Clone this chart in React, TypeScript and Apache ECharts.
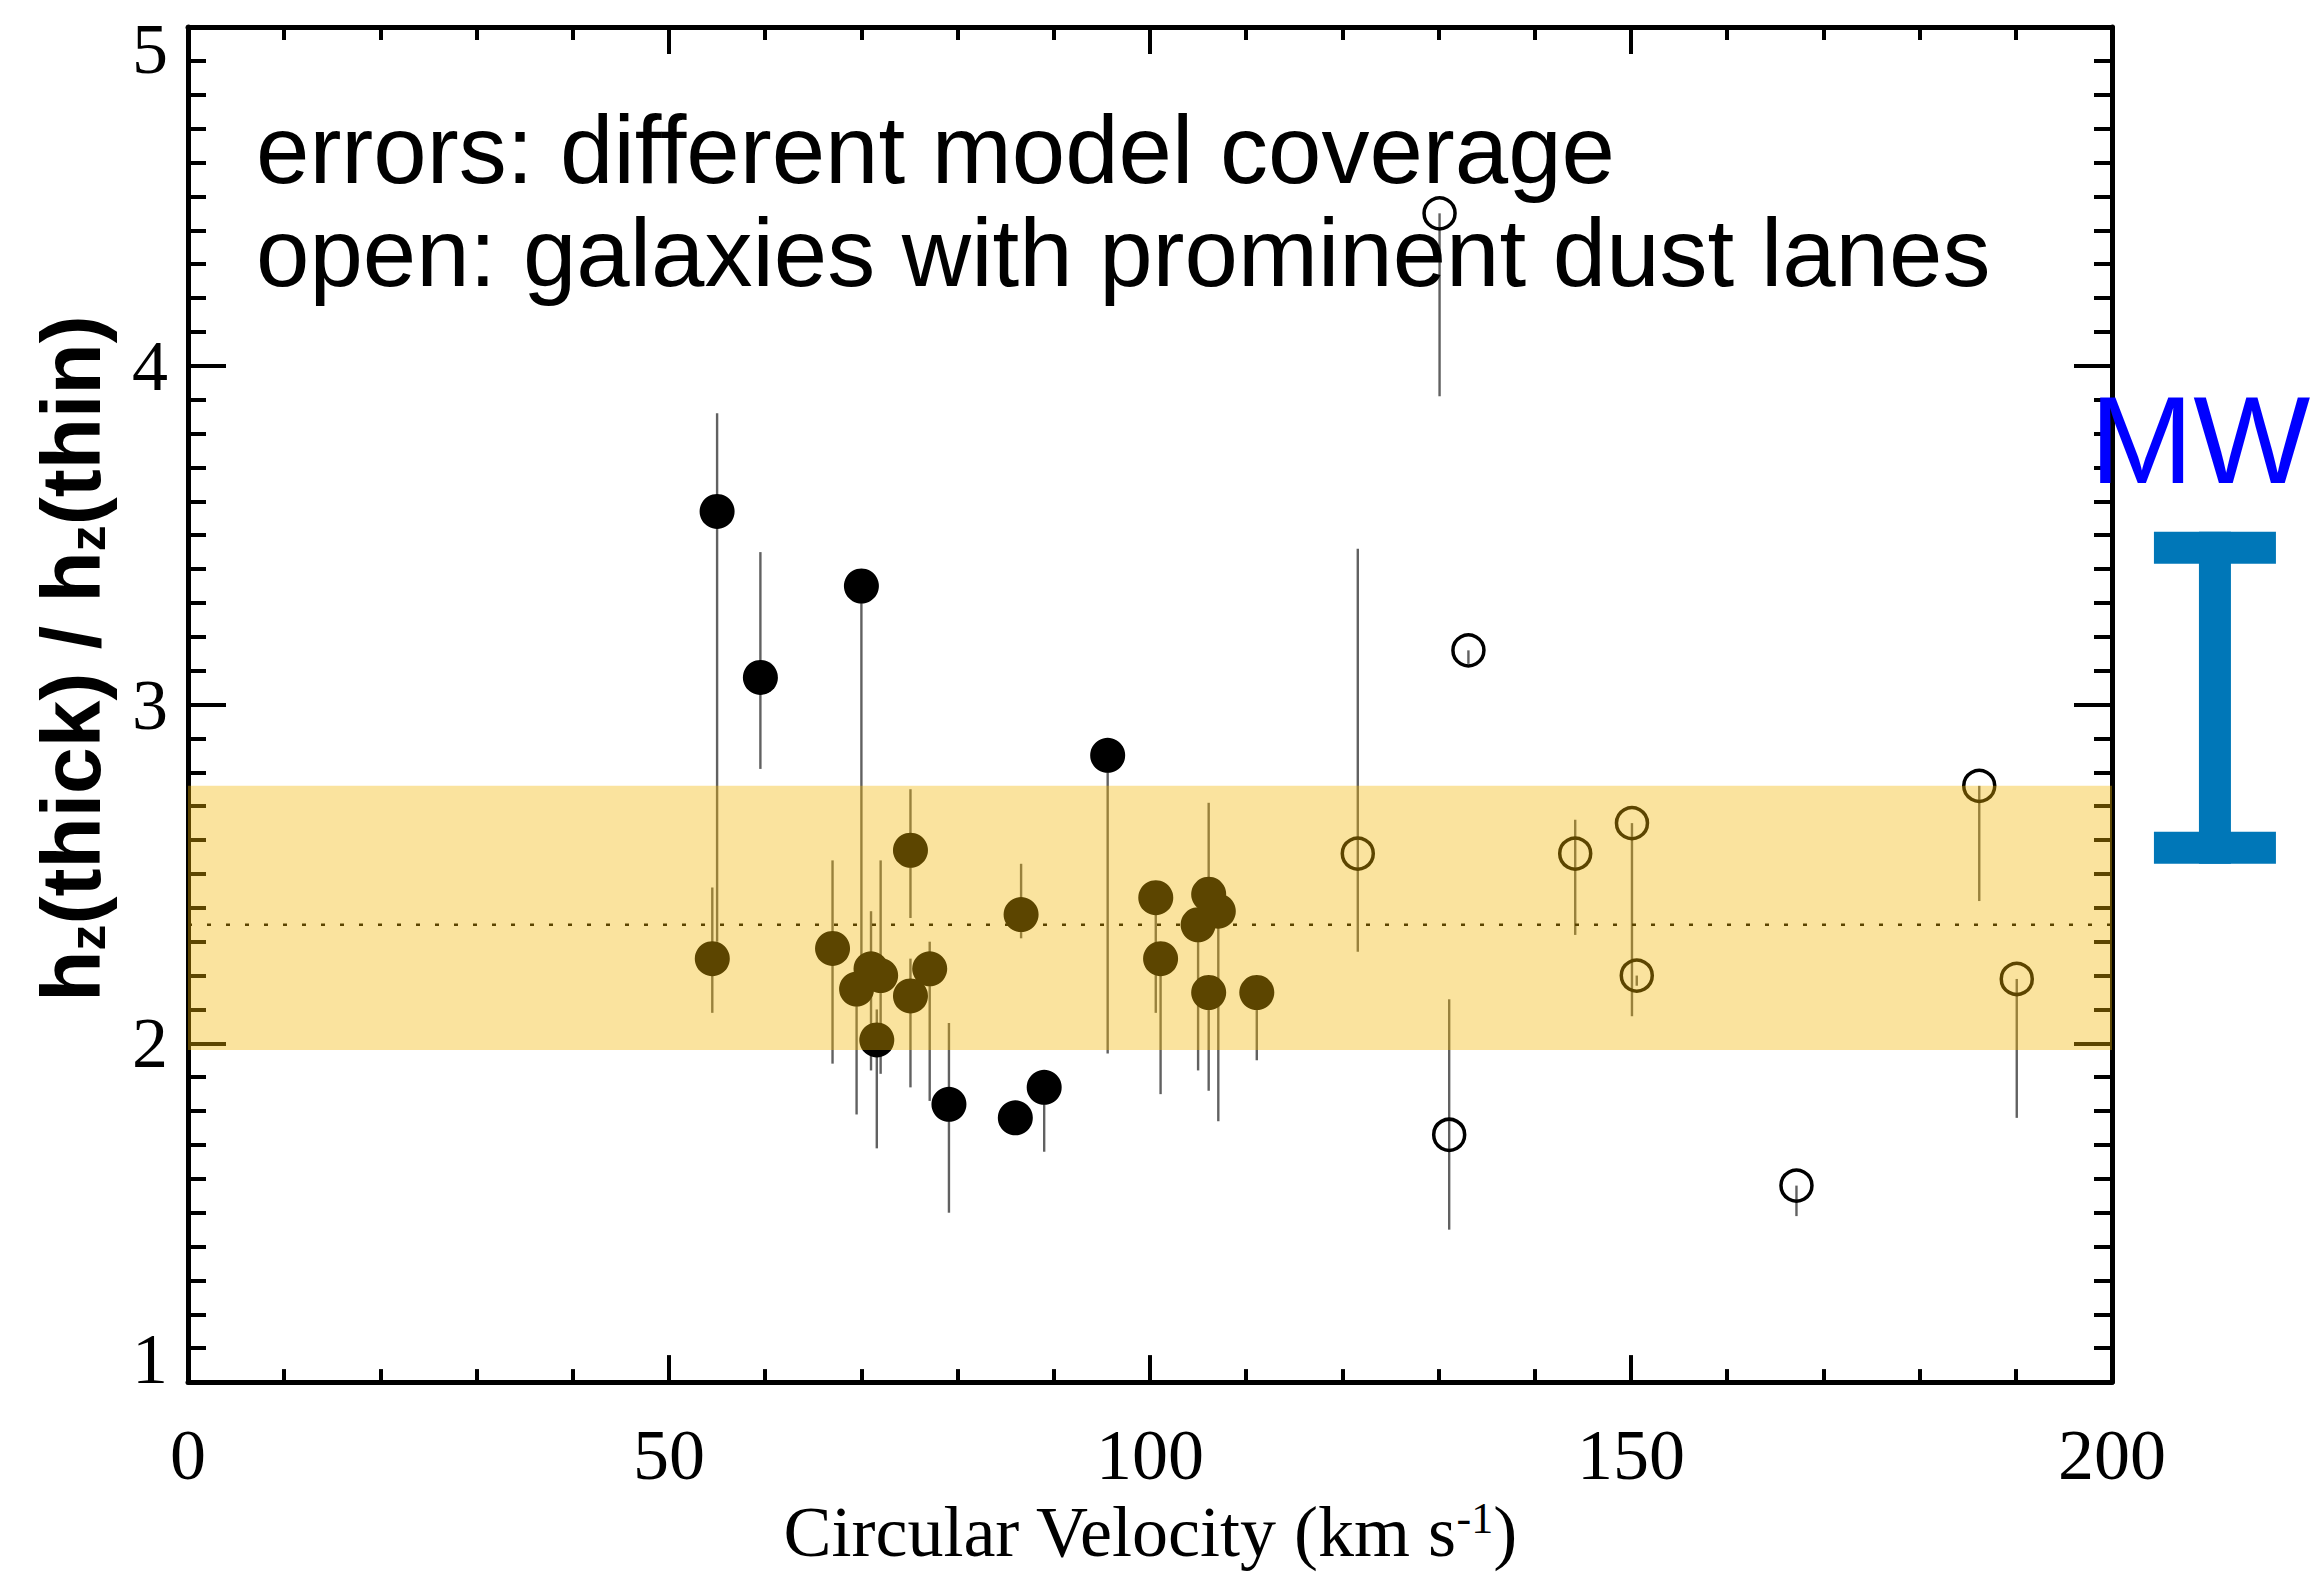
import React, { useEffect, useRef } from 'react';
import * as echarts from 'echarts';

// Axis ticks
const xTicks = [0, 50, 100, 150, 200];
const yTicks = [1, 2, 3, 4, 5];

// Filled symbols: circular velocity, ratio, lower and upper error extent
const filledV = [55.0, 54.5, 59.5, 70.0, 69.5, 67.0, 71.0, 72.0, 71.6, 75.1, 75.1, 77.1, 79.1, 86.0, 89.0, 86.6, 95.6, 100.6, 101.1, 106.1, 107.1, 105.0, 106.1, 111.1];
const filledR = [3.57, 2.25, 3.08, 3.35, 2.16, 2.28, 2.22, 2.20, 2.01, 2.57, 2.14, 2.22, 1.82, 1.78, 1.87, 2.38, 2.85, 2.43, 2.25, 2.44, 2.39, 2.35, 2.15, 2.15];
const filledLo = [2.30, 2.09, 2.81, 2.20, 1.79, 1.94, 1.92, 1.91, 1.69, 2.37, 1.87, 1.83, 1.50, 1.78, 1.68, 2.31, 1.97, 2.09, 1.85, 2.44, 1.77, 1.92, 1.86, 1.95];
const filledHi = [3.86, 2.46, 3.45, 3.35, 2.16, 2.54, 2.39, 2.54, 2.10, 2.75, 2.25, 2.30, 2.06, 1.78, 1.87, 2.53, 2.85, 2.43, 2.25, 2.71, 2.39, 2.35, 2.15, 2.15];

// Open symbols: galaxies with prominent dust lanes
const openV = [121.6, 130.1, 133.1, 131.1, 144.2, 150.1, 150.6, 167.2, 186.2, 190.1];
const openR = [2.56, 4.45, 3.16, 1.73, 2.56, 2.65, 2.20, 1.58, 2.76, 2.19];
const openLo = [2.27, 3.91, 3.12, 1.45, 2.32, 2.08, 2.17, 1.49, 2.42, 1.78];
const openHi = [3.46, 4.45, 3.16, 2.13, 2.66, 2.65, 2.20, 1.58, 2.76, 2.19];

// Mean ratio and its scatter band
const meanRatio = 2.35;
const bandLow = 1.98;
const bandHigh = 2.76;

// Milky Way range (drawn beyond the right axis)
const mwV = 210.7;
const mwLo = 2.53;
const mwHi = 3.51;

const SERIF = '"Liberation Serif", "Times New Roman", serif';
const SANS = '"Liberation Sans", Arial, Helvetica, sans-serif';

function errRender(params: any, api: any) {
  const x = api.value(0);
  const p1 = api.coord([x, api.value(1)]);
  const p2 = api.coord([x, api.value(2)]);
  return {
    type: 'line',
    shape: { x1: p1[0], y1: p1[1], x2: p2[0], y2: p2[1] },
    style: { stroke: '#000', lineWidth: 2.4, opacity: 0.62 },
  };
}

function buildOption() {
  const tickStyle = { color: '#000', width: 4 };
  const axisLineStyle = { color: '#000', width: 5 };
  const xBase = {
    type: 'value',
    min: xTicks[0],
    max: xTicks[xTicks.length - 1],
    interval: xTicks[1] - xTicks[0],
    splitLine: { show: false },
    axisLine: { show: true, onZero: false, lineStyle: axisLineStyle },
    axisTick: { show: true, inside: true, length: 27, lineStyle: tickStyle },
    minorTick: { show: true, splitNumber: 5, length: 13, lineStyle: tickStyle },
  };
  const yBase = {
    type: 'value',
    min: yTicks[0],
    max: yTicks[yTicks.length - 1],
    interval: yTicks[1] - yTicks[0],
    splitLine: { show: false },
    axisLine: { show: true, onZero: false, lineStyle: axisLineStyle },
    axisTick: { show: true, inside: true, length: 38, lineStyle: tickStyle },
    minorTick: { show: true, splitNumber: 10, length: 18, lineStyle: tickStyle },
  };
  const numStyle = { fontFamily: SERIF, fontSize: 72, color: '#000' };
  return {
    animation: false,
    backgroundColor: '#fff',
    grid: { left: 188, right: 203, top: 27, bottom: 180, containLabel: false },
    xAxis: [
      {
        ...xBase,
        position: 'bottom',
        axisLabel: { show: true, margin: 37, ...numStyle },
        name: '{n|Circular Velocity (km s}{s|-1}{n|)}',
        nameLocation: 'middle',
        nameGap: 111,
        nameTextStyle: {
          rich: {
            n: { fontFamily: SERIF, fontSize: 72, color: '#000' },
            s: { fontFamily: SERIF, fontSize: 44, color: '#000', verticalAlign: 'top' },
          },
        },
      },
      { ...xBase, position: 'top', axisLabel: { show: false } },
    ],
    yAxis: [
      {
        ...yBase,
        position: 'left',
        axisLabel: {
          show: true,
          margin: 20,
          formatter: (v: number) =>
            v === yTicks[yTicks.length - 1] ? `{t|${v}}` : v === yTicks[0] ? `{b|${v}}` : `{n|${v}}`,
          rich: {
            n: { ...numStyle },
            t: { ...numStyle, padding: [44, 0, 0, 0] },
            b: { ...numStyle, padding: [0, 0, 46, 0] },
          },
        },
        name: '{m|h}{s|z}{m|(thick) / h}{s|z}{m|(thin)}',
        nameLocation: 'middle',
        nameRotate: 90,
        nameGap: 75,
        nameTextStyle: {
          padding: [0, 0, 0, 92],
          rich: {
            m: { fontFamily: SANS, fontWeight: 'bold', fontSize: 84, color: '#000' },
            s: { fontFamily: SANS, fontWeight: 'bold', fontSize: 52, color: '#000', verticalAlign: 'bottom' },
          },
        },
      },
      { ...yBase, position: 'right', axisLabel: { show: false } },
    ],
    graphic: [
      {
        type: 'text',
        x: 256,
        y: 149,
        style: {
          text: 'errors: different model coverage',
          fontFamily: SANS, fontSize: 96, fill: '#000',
          align: 'left', verticalAlign: 'middle',
        },
        z: 20,
      },
      {
        type: 'text',
        x: 256,
        y: 252,
        style: {
          text: 'open: galaxies with prominent dust lanes',
          fontFamily: SANS, fontSize: 96, fill: '#000',
          align: 'left', verticalAlign: 'middle',
        },
        z: 20,
      },
      {
        type: 'text',
        x: 2090,
        y: 440,
        style: {
          text: 'MW',
          fontFamily: SANS, fontSize: 124, fill: '#0000FF',
          align: 'left', verticalAlign: 'middle',
        },
        z: 20,
      },
    ],
    series: [
      {
        type: 'custom',
        name: 'err-filled',
        renderItem: errRender,
        data: filledV.map((v, i) => [v, filledLo[i], filledHi[i]]),
        z: 2,
        silent: true,
      },
      {
        type: 'custom',
        name: 'err-open',
        renderItem: errRender,
        data: openV.map((v, i) => [v, openLo[i], openHi[i]]),
        z: 2,
        silent: true,
      },
      {
        type: 'scatter',
        name: 'filled',
        symbol: 'circle',
        symbolSize: 35,
        itemStyle: { color: '#000', opacity: 1 },
        data: filledV.map((v, i) => [v, filledR[i]]),
        z: 3,
      },
      {
        type: 'scatter',
        name: 'open',
        symbol: 'circle',
        symbolSize: 31,
        itemStyle: { color: 'rgba(0,0,0,0)', borderColor: '#000', borderWidth: 3.5, opacity: 1 },
        data: openV.map((v, i) => [v, openR[i]]),
        z: 3,
      },
      {
        type: 'line',
        name: 'mean',
        symbol: 'none',
        data: [[xTicks[0], meanRatio], [xTicks[xTicks.length - 1], meanRatio]],
        lineStyle: { color: '#000', width: 2.5, type: [4, 15] },
        z: 3,
        silent: true,
      },
      {
        type: 'custom',
        name: 'band',
        data: [[xTicks[0], xTicks[xTicks.length - 1], bandLow, bandHigh]],
        renderItem: (params: any, api: any) => {
          const a = api.coord([api.value(0), api.value(3)]);
          const b = api.coord([api.value(1), api.value(2)]);
          return {
            type: 'rect',
            shape: { x: a[0], y: a[1], width: b[0] - a[0], height: b[1] - a[1] },
            style: { fill: 'rgba(242,182,0,0.38)' },
          };
        },
        z: 10,
        silent: true,
      },
      {
        type: 'custom',
        name: 'MW',
        clip: false,
        data: [[mwV, mwLo, mwHi]],
        renderItem: (params: any, api: any) => {
          const x = api.value(0);
          const top = api.coord([x, api.value(2)]);
          const bot = api.coord([x, api.value(1)]);
          const capW = 122, capH = 32, stemW = 32;
          const fill = { fill: '#0077B8' };
          return {
            type: 'group',
            children: [
              { type: 'rect', shape: { x: top[0] - stemW / 2, y: top[1], width: stemW, height: bot[1] - top[1] }, style: fill },
              { type: 'rect', shape: { x: top[0] - capW / 2, y: top[1], width: capW, height: capH }, style: fill },
              { type: 'rect', shape: { x: bot[0] - capW / 2, y: bot[1] - capH, width: capW, height: capH }, style: fill },
            ],
          };
        },
        z: 5,
        silent: true,
      },
    ],
  };
}

export default function App() {
  const ref = useRef<HTMLDivElement>(null);
  useEffect(() => {
    const chart = echarts.init(ref.current!, null, { renderer: 'svg' });
    chart.setOption(buildOption() as any);
    return () => chart.dispose();
  }, []);
  return (
    <div
      ref={ref}
      style={{ position: 'absolute', left: 0, top: 0, width: 2315, height: 1573, overflow: 'hidden' }}
    />
  );
}
